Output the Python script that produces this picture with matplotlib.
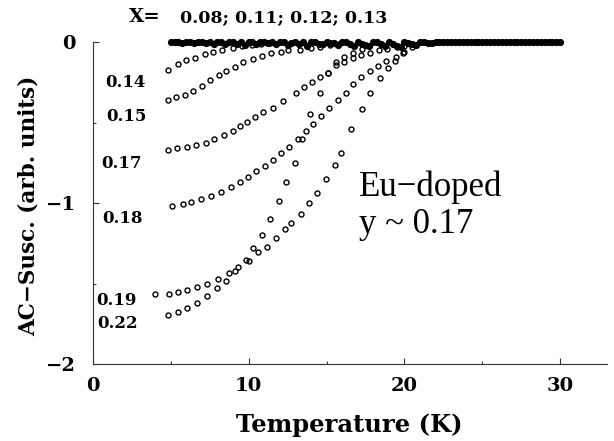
import matplotlib.pyplot as plt

# --- data ---
# x = 0.08 ... 0.13: flat band at zero
t_008 = [5.0, 6.0, 7.0, 8.0, 9.0, 10.0, 11.0, 12.0, 13.0, 14.0, 15.0, 16.0, 17.0,
         18.0, 19.0, 20.0, 21.0, 22.0, 23.0, 24.0, 25.0, 26.0, 27.0, 28.0, 29.0, 30.0]
v_008 = [0.0, 0.0, 0.0, 0.0, 0.0, 0.0, 0.0, 0.0, 0.0, 0.0, 0.0, 0.0, 0.0,
         0.0, 0.0, 0.0, 0.0, 0.0, 0.0, 0.0, 0.0, 0.0, 0.0, 0.0, 0.0, 0.0]
t_011 = [5.25, 6.25, 7.25, 8.25, 9.25, 10.25, 11.25, 12.25, 13.25, 14.25, 15.25, 16.25,
         17.25, 18.25, 19.25, 20.25, 21.25, 22.25, 23.25, 24.25, 25.25, 26.25, 27.25,
         28.25, 29.25]
v_011 = [0.0, 0.0, -0.005, 0.0, -0.01, 0.0, -0.005, 0.0, -0.01, 0.0, -0.005, 0.0,
         -0.01, 0.0, -0.01, -0.005, 0.0, 0.0, 0.0, 0.0, 0.0, 0.0, 0.0, 0.0, 0.0]
t_012 = [5.5, 6.5, 7.5, 8.5, 9.5, 10.5, 11.5, 12.5, 13.5, 14.5, 15.5, 16.5, 17.5,
         18.5, 19.5, 20.5, 21.5, 22.5, 23.5, 24.5, 25.5, 26.5, 27.5, 28.5, 29.5]
v_012 = [0.0, -0.005, 0.0, -0.01, 0.0, -0.01, 0.0, -0.015, 0.0, -0.01, -0.005, -0.01,
         -0.015, -0.01, -0.02, -0.01, -0.005, 0.0, 0.0, 0.0, 0.0, 0.0, 0.0, 0.0, 0.0]
t_013 = [5.75, 6.75, 7.75, 8.75, 9.75, 10.75, 11.75, 12.75, 13.75, 14.75, 15.75, 16.75,
         17.75, 18.75, 19.75, 20.75, 21.75, 22.75, 23.75, 24.75, 25.75, 26.75, 27.75,
         28.75, 29.75]
v_013 = [-0.005, 0.0, -0.01, 0.0, -0.015, 0.0, -0.01, -0.005, -0.02, -0.01, -0.015,
         -0.02, -0.02, -0.025, -0.03, -0.015, -0.005, 0.0, 0.0, 0.0, 0.0, 0.0, 0.0, 0.0, 0.0]

t_014 = [4.84, 5.48, 6.0, 6.55, 7.19, 7.72, 8.32, 9.0, 9.6, 10.2, 10.8, 11.4]
v_014 = [-0.172, -0.137, -0.110, -0.095, -0.075, -0.058, -0.048, -0.035, -0.025,
         -0.018, -0.012, -0.006]

t_015 = [4.84, 5.37, 5.91, 6.44, 6.98, 7.51, 8.09, 8.58, 9.12, 9.65, 10.29, 10.83,
         11.42, 12.1, 12.53, 13.3, 14.0, 14.6, 15.2, 15.8]
v_015 = [-0.358, -0.338, -0.327, -0.302, -0.27, -0.234, -0.203, -0.178, -0.151, -0.124,
         -0.104, -0.083, -0.068, -0.058, -0.048, -0.045, -0.038, -0.028, -0.018, -0.01]

t_017 = [4.84, 5.42, 6.02, 6.62, 7.24, 7.77, 8.41, 8.97, 9.44, 9.9, 10.4, 10.93, 11.57,
         12.21, 13.03, 13.56, 14.1, 14.6, 15.1, 15.6, 16.1, 16.7, 17.2, 17.8, 18.4, 18.9,
         19.5, 20.0]
v_017 = [-0.669, -0.658, -0.648, -0.638, -0.623, -0.603, -0.576, -0.551, -0.518, -0.493,
         -0.462, -0.435, -0.406, -0.363, -0.317, -0.276, -0.245, -0.214, -0.19, -0.141,
         -0.12, -0.1, -0.08, -0.067, -0.05, -0.04, -0.03, -0.02]

t_018 = [5.06, 5.76, 6.3, 6.92, 7.58, 8.22, 8.86, 9.44, 9.93, 10.46, 11.04, 11.57, 12.1,
         12.6, 13.2, 13.67, 14.13, 14.63, 15.17, 15.74, 16.27, 16.7, 17.24, 17.77, 18.3,
         18.84, 19.43, 20.0]
v_018 = [-1.017, -1.004, -0.99, -0.975, -0.955, -0.928, -0.9, -0.87, -0.835, -0.8,
         -0.768, -0.731, -0.69, -0.648, -0.6, -0.551, -0.508, -0.458, -0.41, -0.358,
         -0.313, -0.259, -0.214, -0.178, -0.145, -0.114, -0.09, -0.06]

t_019 = [3.99, 4.9, 5.44, 6.02, 6.7, 7.36, 8.05, 8.75, 9.29, 10.03, 10.6, 11.19, 11.74,
         12.32, 12.75, 13.35, 13.86, 14.39, 14.95, 15.57, 15.9, 16.6, 17.3, 17.81, 18.45,
         18.94, 19.4, 19.9, 20.5]
v_019 = [-1.565, -1.563, -1.555, -1.538, -1.522, -1.5, -1.47, -1.435, -1.4, -1.358,
         -1.304, -1.27, -1.218, -1.162, -1.124, -1.066, -1.0, -0.934, -0.851, -0.762,
         -0.69, -0.54, -0.414, -0.317, -0.22, -0.161, -0.116, -0.068, -0.03]

t_022 = [4.84, 5.44, 6.02, 6.7, 7.36, 7.98, 8.54, 9.12, 9.82, 10.29, 10.83, 11.36, 11.94,
         12.43, 12.96, 13.45, 13.97, 14.6, 15.1, 15.6, 16.1, 16.7, 17.3]
v_022 = [-1.694, -1.677, -1.652, -1.621, -1.576, -1.528, -1.482, -1.42, -1.352, -1.28,
         -1.2, -1.1, -0.986, -0.87, -0.752, -0.6, -0.445, -0.317, -0.19, -0.12, -0.093,
         -0.069, -0.04]

curve_labels = ["0.14", "0.15", "0.17", "0.18", "0.19", "0.22"]
label_x = [0.78, 0.85, 0.57, 0.59, 0.2, 0.27]
label_y = [-0.252, -0.463, -0.756, -1.097, -1.605, -1.748]

bold = dict(family="DejaVu Serif", fontweight="bold")

fig = plt.figure(figsize=(6.14, 4.41), dpi=100)
ax = fig.add_axes([0.1511, 0.1746, 0.8375, 0.7295])

# flat band of low-x samples, drawn thick so the overlapping circles merge
for t, v in [(t_008, v_008), (t_011, v_011), (t_012, v_012), (t_013, v_013)]:
    ax.plot(t, v, 'o', mfc='none', mec='black', ms=2.8, mew=2.4, clip_on=False)

# the transition curves
for t, v in [(t_014, v_014), (t_015, v_015), (t_017, v_017),
             (t_018, v_018), (t_019, v_019), (t_022, v_022)]:
    ax.plot(t, v, 'o', mfc='none', mec='black', ms=3.6, mew=1.0, clip_on=False)

for lab, x, y in zip(curve_labels, label_x, label_y):
    ax.text(x, y, lab, ha='left', va='center', fontsize=12, **bold)

ax.text(2.3, 0.157, "X=", ha='left', va='center', fontsize=14, clip_on=False, **bold)
ax.text(5.6, 0.155, "0.08; 0.11; 0.12; 0.13", ha='left', va='center', fontsize=12.5,
        clip_on=False, **bold)

ax.text(17.1, -0.9, "Eu\u2212doped", ha='left', va='center', fontsize=25,
        family="Liberation Serif")
ax.text(17.1, -1.135, "y ~ 0.17", ha='left', va='center', fontsize=25,
        family="Liberation Serif")

ax.set_xlim(0, 33)
ax.set_ylim(-2, 0)
ax.spines['top'].set_visible(False)
ax.spines['right'].set_visible(False)
for s in ['left', 'bottom']:
    ax.spines[s].set_linewidth(0.8)
    ax.spines[s].set_color('#333333')

ax.set_xticks([0, 10, 20, 30])
ax.set_yticks([0, -1, -2])
ax.set_yticklabels(["0", "\u22121", "\u22122"])
ax.set_xticks([5, 15, 25], minor=True)
ax.set_yticks([-0.5, -1.5], minor=True)
ax.tick_params(which='major', direction='in', length=4, width=0.8, color='#333333',
               labelsize=14)
ax.tick_params(which='minor', direction='in', length=2, width=0.8, color='#333333')
ax.tick_params(axis='x', pad=9)
ax.tick_params(axis='y', pad=12)
for lab in ax.get_xticklabels() + ax.get_yticklabels():
    lab.set_family("DejaVu Serif")
    lab.set_fontweight("bold")

fig.text(0.047, 0.533, "AC\u2212Susc. (arb. units)", rotation=90, ha='center',
         va='center', fontsize=15.5, **bold)
fig.text(0.568, 0.036, "Temperature (K)", ha='center', va='center', fontsize=17.5, **bold)

fig.savefig("out.png", dpi=100)
